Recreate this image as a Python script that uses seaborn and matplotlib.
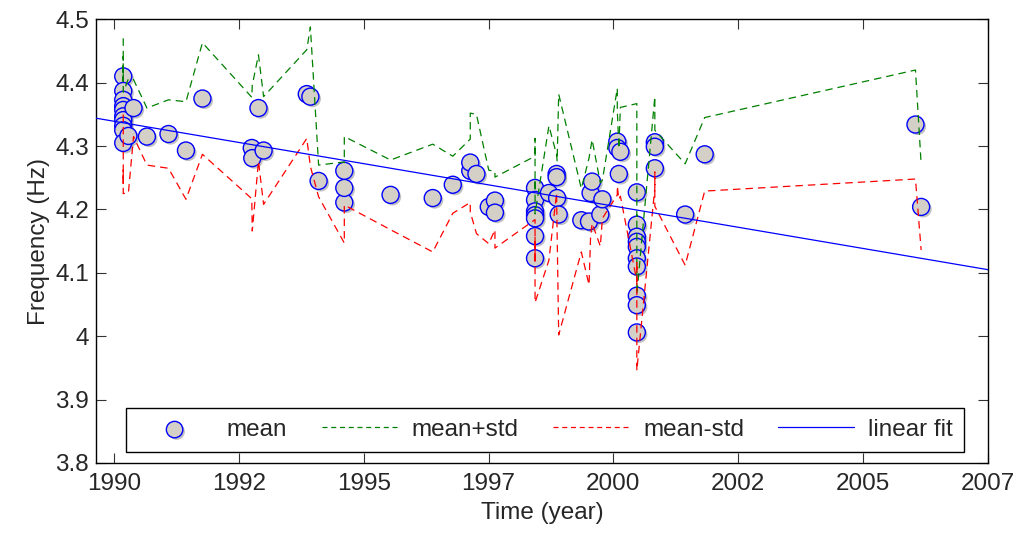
import numpy as np
import pandas as pd
import matplotlib
matplotlib.use("Agg")
import matplotlib.pyplot as plt
import matplotlib.patheffects as pe
import seaborn as sns

sns.set_style("ticks")
plt.rcParams['font.family'] = ['Liberation Sans', 'DejaVu Sans']

# --- data (time order) ---
years = [1990.18, 1990.18, 1990.18, 1990.18, 1990.18, 1990.18, 1990.18, 1990.18, 1990.18, 1990.18,
         1990.28, 1990.38, 1990.64, 1991.06, 1991.40, 1991.72,
         1992.68, 1992.69, 1992.81, 1992.91, 1993.75, 1993.82, 1993.98,
         1994.48, 1994.48, 1994.48, 1995.38, 1996.20, 1996.59,
         1996.93, 1996.93, 1997.05, 1997.29, 1997.41, 1997.41,
         1998.19, 1998.19, 1998.19, 1998.19, 1998.19, 1998.19, 1998.19,
         1998.46, 1998.61, 1998.61, 1998.62, 1998.65,
         1999.09, 1999.24, 1999.27, 1999.30, 1999.46, 1999.50,
         1999.79, 1999.79, 1999.82, 1999.85,
         2000.17, 2000.17, 2000.17, 2000.17, 2000.17, 2000.17, 2000.17, 2000.17, 2000.17, 2000.17,
         2000.52, 2000.52, 2000.52, 2001.11, 2001.49, 2005.59, 2005.70]
mean = [4.410, 4.387, 4.373, 4.363, 4.357, 4.347, 4.341, 4.332, 4.325, 4.305,
        4.316, 4.360, 4.315, 4.319, 4.293, 4.375,
        4.297, 4.281, 4.360, 4.293, 4.382, 4.378, 4.245,
        4.211, 4.234, 4.261, 4.223, 4.218, 4.239,
        4.261, 4.274, 4.256, 4.204, 4.214, 4.195,
        4.234, 4.215, 4.197, 4.191, 4.186, 4.158, 4.123,
        4.226, 4.256, 4.251, 4.218, 4.192,
        4.183, 4.181, 4.226, 4.244, 4.192, 4.216,
        4.307, 4.297, 4.256, 4.291,
        4.227, 4.176, 4.157, 4.149, 4.141, 4.123, 4.110, 4.064, 4.049, 4.006,
        4.306, 4.299, 4.265, 4.192, 4.287, 4.334, 4.204]
std = [0.060, 0.040, 0.030, 0.040, 0.050, 0.060, 0.100, 0.070, 0.100, 0.080,
       0.090, 0.045, 0.045, 0.054, 0.077, 0.088,
       0.080, 0.115, 0.084, 0.085, 0.070, 0.110, 0.025,
       0.064, 0.040, 0.054, 0.055, 0.085, 0.045,
       0.050, 0.078, 0.094, 0.058, 0.046, 0.056,
       0.050, 0.097, 0.040, 0.050, 0.045, 0.090, 0.070,
       0.106, 0.030, 0.035, 0.058, 0.190,
       0.050, 0.100, 0.070, 0.066, 0.050, 0.030,
       0.084, 0.060, 0.040, 0.070,
       0.140, 0.060, 0.050, 0.040, 0.050, 0.045, 0.030, 0.020, 0.030, 0.060,
       0.072, 0.040, 0.060, 0.080, 0.058, 0.086, 0.068]

# linear fit end points
fit_years = [1989.65, 2007.0]
fit_freq = [4.344, 4.105]

xtick_labels = ['1990', '1992', '1995', '1997', '2000', '2002', '2005', '2007']
ytick_values = [3.8, 3.9, 4.0, 4.1, 4.2, 4.3, 4.4, 4.5]
ytick_labels = ['3.8', '3.9', '4', '4.1', '4.2', '4.3', '4.4', '4.5']

df = pd.DataFrame({'year': years, 'mean': mean, 'std': std})
df['upper'] = df['mean'] + df['std']
df['lower'] = df['mean'] - df['std']
fit = pd.DataFrame({'year': fit_years, 'freq': fit_freq})

FS = 17.5

fig = plt.figure(figsize=(10.18, 5.35), dpi=100)
ax = fig.add_axes([0.0943, 0.1346, 0.8762, 0.8293])

sns.scatterplot(data=df, x='year', y='mean', ax=ax, s=150, color='#d4d0c8',
                edgecolor='#0000ff', linewidth=1.0, label='mean', zorder=2)
ax.collections[0].set_path_effects([
    pe.SimplePatchShadow(offset=(1.5, -1.5), shadow_rgbFace='#999999', alpha=0.6),
    pe.Normal()])

sns.lineplot(data=df, x='year', y='upper', ax=ax, sort=False, estimator=None,
             color='#008000', lw=0.9, dashes=False, label='mean+std', zorder=3)
sns.lineplot(data=df, x='year', y='lower', ax=ax, sort=False, estimator=None,
             color='#ff0000', lw=0.9, dashes=False, label='mean-std', zorder=3)
sns.lineplot(data=fit, x='year', y='freq', ax=ax, sort=False, estimator=None,
             color='#0000ff', lw=0.9, label='linear fit', zorder=3)
for ln in ax.lines[:2]:
    ln.set_linestyle((0, (6, 4)))

ax.set_xlim(1989.65, 2007.0)
ax.set_ylim(3.8, 4.5)
ax.set_xticks(1990 + np.arange(8) * 17 / 7)
ax.set_xticklabels(xtick_labels)
ax.set_yticks(ytick_values)
ax.set_yticklabels(ytick_labels)
ax.tick_params(direction='in', length=7, width=0.8, color='#333333',
               top=True, right=True, labelsize=FS)
ax.tick_params(axis='x', pad=7)
ax.tick_params(axis='y', pad=5)
for s in ax.spines.values():
    s.set_visible(True)
    s.set_linewidth(1.0)
    s.set_color('black')

ax.set_xlabel('Time (year)', fontsize=FS, labelpad=5)
ax.set_ylabel('Frequency (Hz)', fontsize=FS, labelpad=4)

handles, labels = ax.get_legend_handles_labels()
leg = ax.legend(handles, labels, ncol=4, loc='lower left',
                bbox_to_anchor=(0.0336, 0.025, 0.9395, 0.106), mode='expand',
                fontsize=FS, frameon=True, fancybox=False, edgecolor='black',
                handlelength=3.1, borderaxespad=0, borderpad=0.45,
                columnspacing=0.75, handletextpad=0.6)
leg.get_frame().set_linewidth(1.0)
leg.get_frame().set_alpha(1)
leg.legend_handles[0].set_sizes([140])
for h in leg.legend_handles[1:3]:
    h.set_linestyle((0, (4, 3)))

fig.savefig('out.png', dpi=100)
